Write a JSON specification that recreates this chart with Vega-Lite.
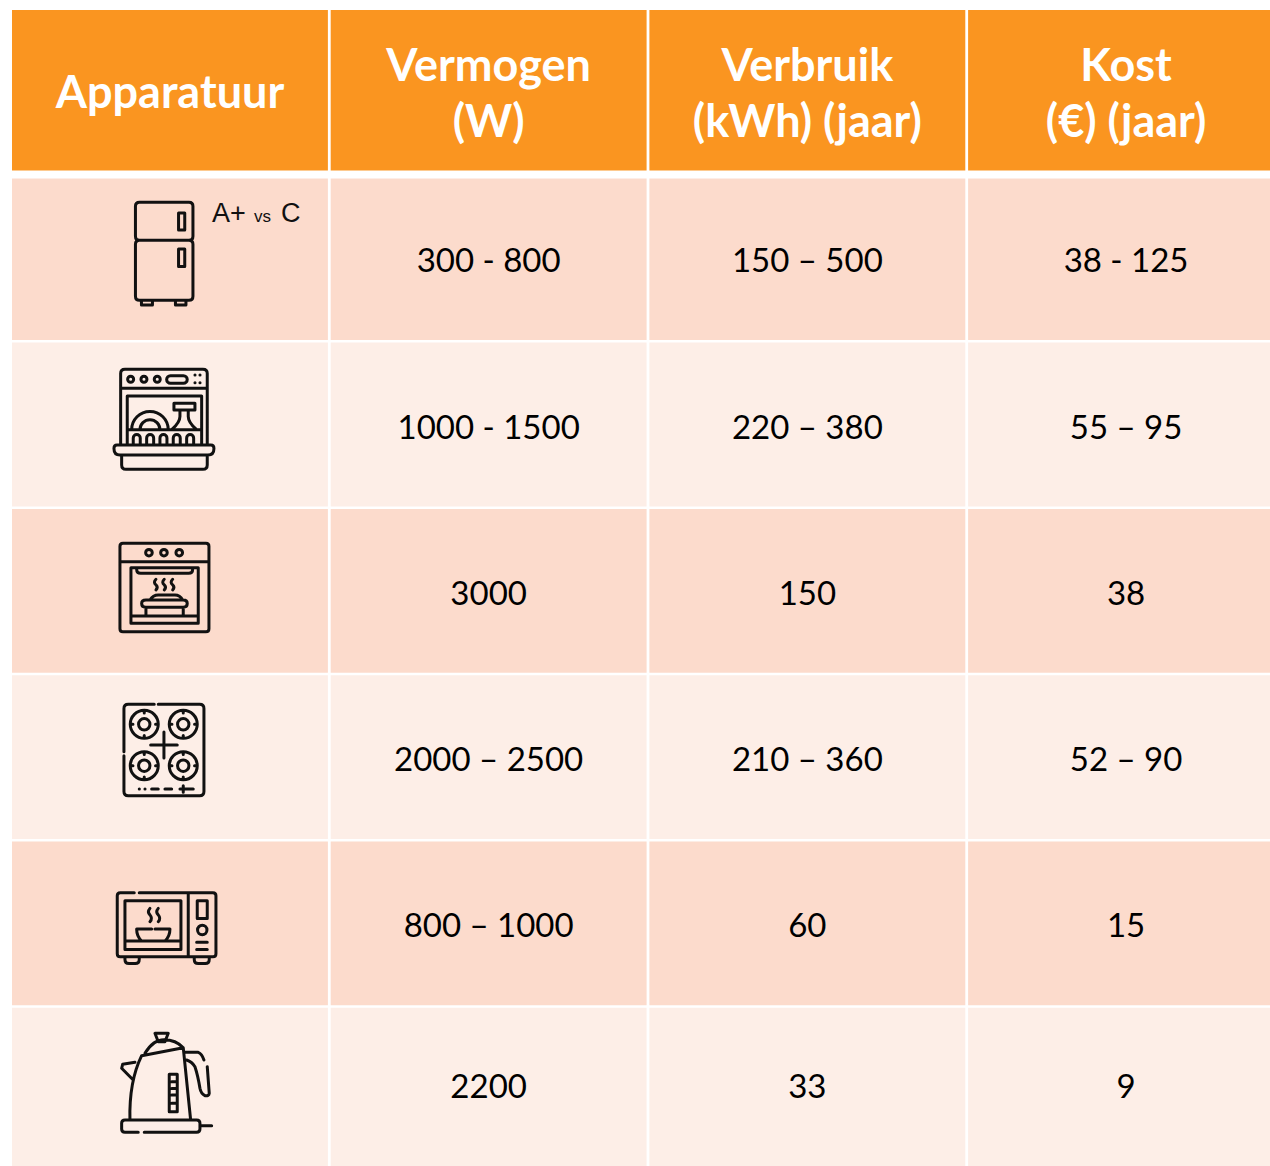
{"$schema":"https://vega.github.io/schema/vega-lite/v6.json","width":1270,"height":1166,"padding":0,"autosize":{"type":"none"},"background":"white","view":{"stroke":null},
"data":{"values":[
{"rij":"Kop","kolom":"Apparatuur","tekst":"Apparatuur"},{"rij":"Kop","kolom":"Vermogen","tekst":"Vermogen\n(W)"},{"rij":"Kop","kolom":"Verbruik","tekst":"Verbruik\n(kWh) (jaar)"},{"rij":"Kop","kolom":"Kost","tekst":"Kost\n(€) (jaar)"},
{"rij":"Koelkast","kolom":"Apparatuur","tekst":""},{"rij":"Koelkast","kolom":"Vermogen","tekst":"300 - 800"},{"rij":"Koelkast","kolom":"Verbruik","tekst":"150 – 500"},{"rij":"Koelkast","kolom":"Kost","tekst":"38 - 125"},
{"rij":"Vaatwasser","kolom":"Apparatuur","tekst":""},{"rij":"Vaatwasser","kolom":"Vermogen","tekst":"1000 - 1500"},{"rij":"Vaatwasser","kolom":"Verbruik","tekst":"220 – 380"},{"rij":"Vaatwasser","kolom":"Kost","tekst":"55 – 95"},
{"rij":"Oven","kolom":"Apparatuur","tekst":""},{"rij":"Oven","kolom":"Vermogen","tekst":"3000"},{"rij":"Oven","kolom":"Verbruik","tekst":"150"},{"rij":"Oven","kolom":"Kost","tekst":"38"},
{"rij":"Kookplaat","kolom":"Apparatuur","tekst":""},{"rij":"Kookplaat","kolom":"Vermogen","tekst":"2000 – 2500"},{"rij":"Kookplaat","kolom":"Verbruik","tekst":"210 – 360"},{"rij":"Kookplaat","kolom":"Kost","tekst":"52 – 90"},
{"rij":"Microgolf","kolom":"Apparatuur","tekst":""},{"rij":"Microgolf","kolom":"Vermogen","tekst":"800 – 1000"},{"rij":"Microgolf","kolom":"Verbruik","tekst":"60"},{"rij":"Microgolf","kolom":"Kost","tekst":"15"},
{"rij":"Waterkoker","kolom":"Apparatuur","tekst":""},{"rij":"Waterkoker","kolom":"Vermogen","tekst":"2200"},{"rij":"Waterkoker","kolom":"Verbruik","tekst":"33"},{"rij":"Waterkoker","kolom":"Kost","tekst":"9"}
]},
"encoding":{
"x":{"field":"kolom","type":"nominal","axis":null,"sort":["Apparatuur","Vermogen","Verbruik","Kost"],"scale":{"type":"band","range":[12,1284],"paddingInner":0.0088,"paddingOuter":0}},
"y":{"field":"rij","type":"nominal","axis":null,"sort":["Kop","Koelkast","Vaatwasser","Oven","Kookplaat","Microgolf","Waterkoker"],"scale":{"type":"band","range":[10,1171.6],"paddingInner":0.015,"paddingOuter":0}}
},
"layer":[
{"mark":{"type":"rect"},"encoding":{"fill":{"field":"rij","type":"nominal","legend":null,"scale":{"domain":["Kop","Koelkast","Vaatwasser","Oven","Kookplaat","Microgolf","Waterkoker"],"range":["#FA9520","#FCDBCC","#FDEEE7","#FCDBCC","#FDEEE7","#FCDBCC","#FDEEE7"]}}}},
{"transform":[{"filter":"datum.rij==='Kop' && datum.kolom==='Kost'"}],"mark":{"type":"rule","stroke":"white","strokeWidth":8,"yOffset":0.7},"encoding":{"x":null,"y":{"field":"rij","type":"nominal","bandPosition":1}}},
{"transform":[{"filter":"datum.rij==='Kop' && datum.kolom==='Apparatuur'"}],"mark":{"type":"text","font":"Lato","fontWeight":"bold","fontSize":45,"fill":"white","baseline":"middle","align":"center","dy":2},"encoding":{"text":{"field":"tekst"}}},
{"transform":[{"filter":"datum.rij==='Kop' && datum.kolom!=='Apparatuur'"}],"mark":{"type":"text","font":"Lato","fontWeight":"bold","fontSize":45,"fill":"white","lineBreak":"\n","lineHeight":56,"baseline":"middle","align":"center","dy":-25},"encoding":{"text":{"field":"tekst"}}},
{"transform":[{"filter":"datum.rij!=='Kop' && datum.rij!=='Waterkoker' && datum.tekst!==''"}],"mark":{"type":"text","font":"Lato","fontSize":33,"fill":"black","baseline":"middle","align":"center","dy":4},"encoding":{"text":{"field":"tekst"}}},
{"transform":[{"filter":"datum.rij==='Waterkoker' && datum.tekst!==''"}],"mark":{"type":"text","font":"Lato","fontSize":33,"fill":"black","baseline":"middle","align":"center","dy":-2},"encoding":{"text":{"field":"tekst"}}},
{"transform":[{"filter":"datum.rij==='Koelkast' && datum.kolom==='Apparatuur'"}],"layer":[
{"mark":{"type":"text","text":"A+","font":"Liberation Sans","fontSize":27,"fill":"#111","align":"left","baseline":"alphabetic","dx":42,"dy":-36}},
{"mark":{"type":"text","text":"vs","font":"Liberation Sans","fontSize":17,"fill":"#111","align":"left","baseline":"alphabetic","dx":84,"dy":-36}},
{"mark":{"type":"text","text":"C","font":"Liberation Sans","fontSize":27,"fill":"#111","align":"left","baseline":"alphabetic","dx":111,"dy":-36}},
{"mark":{"type":"point","size":4,"filled":false,"stroke":"#111","strokeWidth":3,"strokeCap":"round","strokeJoin":"round","opacity":1,"shape":"M-30.5 -56 H19 Q23 -56 23 -52 V-22 Q23 -18 19 -18 H-30.5 Q-34.5 -18 -34.5 -22 V-52 Q-34.5 -56 -30.5 -56 Z M-30.5 -18 Q-34.5 -18 -34.5 -14 V38 Q-34.5 42 -30.5 42 H19 Q23 42 23 38 V-14 Q23 -18 19 -18 M8.6 -45.2 H14.8 V-28.2 H8.6 Z M8.6 -9.2 H14.8 V8.3 H8.6 Z M-28.5 42 V46.8 H-17.5 V42 M5.5 42 V46.8 H16 V42"}}
]},
{"transform":[{"filter":"datum.rij==='Vaatwasser' && datum.kolom==='Apparatuur'"}],"mark":{"type":"point","size":4,"filled":false,"stroke":"#111","strokeWidth":3,"strokeCap":"round","strokeJoin":"round","opacity":1,"shape":"M-49.3 20.5 V-51 Q-49.3 -55.2 -45 -55.2 H33 Q37.3 -55.2 37.3 -51 V20.5 M-49.3 -36.2 H37.3 M-42.7 20.5 V-28.5 H31.7 V20.5 M-42.7 5.2 H31.7 M-42.3 -45.2 A3 3 0 1 0 -36.3 -45.2 A3 3 0 1 0 -42.3 -45.2 M-29 -45.2 A3 3 0 1 0 -23 -45.2 A3 3 0 1 0 -29 -45.2 M-15.7 -45.2 A3 3 0 1 0 -9.7 -45.2 A3 3 0 1 0 -15.7 -45.2 M0.5 -48.8 H13.5 A3.8 3.8 0 0 1 13.5 -41.2 H0.5 A3.8 3.8 0 0 1 0.5 -48.8 M25 -49.5 H25.1 M30 -49.5 H30.1 M25 -41.8 H25.1 M30 -41.8 H30.1 M-38.3 5.2 A18.3 18.3 0 0 1 -1.7 5.2 M-30 5.2 A10 10 0 0 1 -10 5.2 M4 -21.2 H25 V-14.5 H4 Z M10 -14.5 V-8 Q10 -2 1.7 5.2 M18.3 -14.5 V-8 Q18.3 -2 26.7 5.2 M-36.7 20.5 V13.5 A3.5 3.5 0 0 1 -29.7 13.5 V20.5 M-23.3 20.5 V13.5 A3.5 3.5 0 0 1 -16.3 13.5 V20.5 M-10 20.5 V13.5 A3.5 3.5 0 0 1 -3 13.5 V20.5 M3.3 20.5 V13.5 A3.5 3.5 0 0 1 10.3 13.5 V20.5 M16.7 20.5 V13.5 A3.5 3.5 0 0 1 23.7 13.5 V20.5 M-53 20.5 H41 Q44 20.5 44 24 Q44 30.5 38 30.5 H-50 Q-56 30.5 -56 24 Q-56 20.5 -53 20.5 Z M-48.3 30.5 V40.5 Q-48.3 44.8 -44 44.8 H33 Q37.3 44.8 37.3 40.5 V30.5"}},
{"transform":[{"filter":"datum.rij==='Oven' && datum.kolom==='Apparatuur'"}],"mark":{"type":"point","size":4,"filled":false,"stroke":"#111","strokeWidth":3,"strokeCap":"round","strokeJoin":"round","opacity":1,"shape":"M-47 -47.5 H36 Q39 -47.5 39 -44.5 V38 Q39 41 36 41 H-47 Q-50 41 -50 38 V-44.5 Q-50 -47.5 -47 -47.5 Z M-50 -29.1 H39 M-24.3 -38.1 A3.3 3.3 0 1 0 -17.7 -38.1 A3.3 3.3 0 1 0 -24.3 -38.1 M-9.3 -38.1 A3.3 3.3 0 1 0 -2.7 -38.1 A3.3 3.3 0 1 0 -9.3 -38.1 M6 -38.1 A3.3 3.3 0 1 0 12.6 -38.1 A3.3 3.3 0 1 0 6 -38.1 M-39 -23.1 H28.3 V32.5 H-39 Z M-33.3 -21.5 Q-33.3 -17.5 -29.3 -17.5 H18.7 Q22.7 -17.5 22.7 -21.5 M-14 -11.5 Q-17 -8.5 -14 -6 Q-11.5 -3.5 -14 -0.8 M-5.7 -11.5 Q-8.7 -8.5 -5.7 -6 Q-3.2 -3.5 -5.7 -0.8 M2.7 -11.5 Q-0.3 -8.5 2.7 -6 Q5.2 -3.5 2.7 -0.8 M-20 9.2 Q-17 4.2 -11.7 4.2 H5 Q10 4.2 12.7 9.2 M-24 9.2 H13.3 Q17.3 9.2 17.3 12.8 Q17.3 16.5 13.3 16.5 H-24.3 Q-28.3 16.5 -28.3 12.8 Q-28.3 9.2 -24 9.2 M-24 16.5 V25.2 M13.3 16.5 V25.2 M-39 25.2 H28.3"}},
{"transform":[{"filter":"datum.rij==='Kookplaat' && datum.kolom==='Apparatuur'"}],"mark":{"type":"point","size":4,"filled":false,"stroke":"#111","strokeWidth":3,"strokeCap":"round","strokeJoin":"round","opacity":1,"shape":"M-15.7 -52.8 H-41.7 Q-46 -52.8 -46 -48.5 V-5.4 M-46 -1.4 V34.3 Q-46 38.6 -41.7 38.6 H29.7 Q34 38.6 34 34.3 V-48.5 Q34 -52.8 29.7 -52.8 H-11.7 M-39.7 -32.8 A14 14 0 1 0 -11.7 -32.8 A14 14 0 1 0 -39.7 -32.8 M-31.4 -32.8 A5.7 5.7 0 1 0 -20 -32.8 A5.7 5.7 0 1 0 -31.4 -32.8 M-0.7 -32.8 A14 14 0 1 0 27.3 -32.8 A14 14 0 1 0 -0.7 -32.8 M7.6 -32.8 A5.7 5.7 0 1 0 19 -32.8 A5.7 5.7 0 1 0 7.6 -32.8 M-39.7 8.6 A14 14 0 1 0 -11.7 8.6 A14 14 0 1 0 -39.7 8.6 M-31.4 8.6 A5.7 5.7 0 1 0 -20 8.6 A5.7 5.7 0 1 0 -31.4 8.6 M-0.7 8.6 A14 14 0 1 0 27.3 8.6 A14 14 0 1 0 -0.7 8.6 M7.6 8.6 A5.7 5.7 0 1 0 19 8.6 A5.7 5.7 0 1 0 7.6 8.6 M-25.7 -46.8 V-44 M-25.7 -21.6 V-18.8 M-39.7 -32.8 H-37 M-14.4 -32.8 H-11.7 M13.3 -46.8 V-44 M13.3 -21.6 V-18.8 M-0.7 -32.8 H2 M24.6 -32.8 H27.3 M-25.7 -5.4 V-2.6 M-25.7 19.8 V22.6 M-39.7 8.6 H-37 M-14.4 8.6 H-11.7 M13.3 -5.4 V-2.6 M13.3 19.8 V22.6 M-0.7 8.6 H2 M24.6 8.6 H27.3 M-19.3 -12.1 H7.3 M-6 -25 V1 M-30.7 31.9 H-30.6 M-25 31.9 H-24.9 M-18.3 31.9 H-11.7 M-5 31.9 H1.7 M10 31.9 H23.3 M13.3 28.6 V35.2"}},
{"transform":[{"filter":"datum.rij==='Microgolf' && datum.kolom==='Apparatuur'"}],"mark":{"type":"point","size":4,"filled":false,"stroke":"#111","strokeWidth":3,"strokeCap":"round","strokeJoin":"round","opacity":1,"shape":"M-35.7 -30.7 H-49.7 Q-52.7 -30.7 -52.7 -27.7 V30.3 Q-52.7 33.3 -49.7 33.3 H43 Q46 33.3 46 30.3 V-27.7 Q46 -30.7 43 -30.7 H-30.7 M18.3 -30.7 V33.3 M-45 -22.7 H11 V26 H-45 Z M-45 17.6 H11 M-18.3 5.6 H-33.3 Q-33.3 13 -28.3 17.6 M-15 5.6 H0 Q0 13 -5 17.6 M-20 -15 Q-23 -11.5 -20 -8.5 Q-17 -5 -20 -1.7 M-11.7 -15 Q-14.7 -11.5 -11.7 -8.5 Q-8.7 -5 -11.7 -1.7 M27.3 -22.7 H37.3 V-5 H27.3 Z M27.6 6.6 A4.7 4.7 0 1 0 37 6.6 A4.7 4.7 0 1 0 27.6 6.6 M26.7 18.9 H37.3 M26.7 26 H37.3 M-45 33.3 V36 Q-45 40 -41 40 H-34.7 Q-30.7 40 -30.7 36 V33.3 M24.3 33.3 V36 Q24.3 40 28.3 40 H35.3 Q39.3 40 39.3 36 V33.3"}},
{"transform":[{"filter":"datum.rij==='Waterkoker' && datum.kolom==='Apparatuur'"}],"mark":{"type":"point","size":4,"filled":false,"stroke":"#111","strokeWidth":3,"strokeCap":"round","strokeJoin":"round","opacity":1,"shape":"M-31.7 42.6 H-45 Q-48.3 42.6 -48.3 39.3 V33.6 Q-48.3 30.3 -45 30.3 H26.7 Q30 30.3 30 33.6 V39.3 Q30 42.6 26.7 42.6 H-25.7 M30 36 H41.7 M-40 30.3 Q-41 -8 -28.3 -34 L13.3 -42 L20.7 30.3 M-25 -36.4 Q-17 -50 -6 -50 Q6 -50 13.3 -42 M-15 -56.4 H-1.7 L-5 -48 H-11.7 Z M-35 -27.4 L-47.3 -25.4 L-48.3 -21.4 L-36.7 -9.7 M15 -37.4 H28.3 Q32 -36 34 -29.7 M37.3 -23 L39.3 3.6 Q39 6.5 35 6 Q31 4 30 -1.4 Q28 -14 25 -23 Q22 -28 16.7 -29.7 M-0.7 -15.4 H7.3 V22 H-0.7 Z M1.7 -8 H7.3 M1.7 -1.3 H7.3 M1.7 5.3 H7.3 M1.7 13.6 H7.3"}}
],
"config":{"style":{"cell":{"stroke":null}}}}
